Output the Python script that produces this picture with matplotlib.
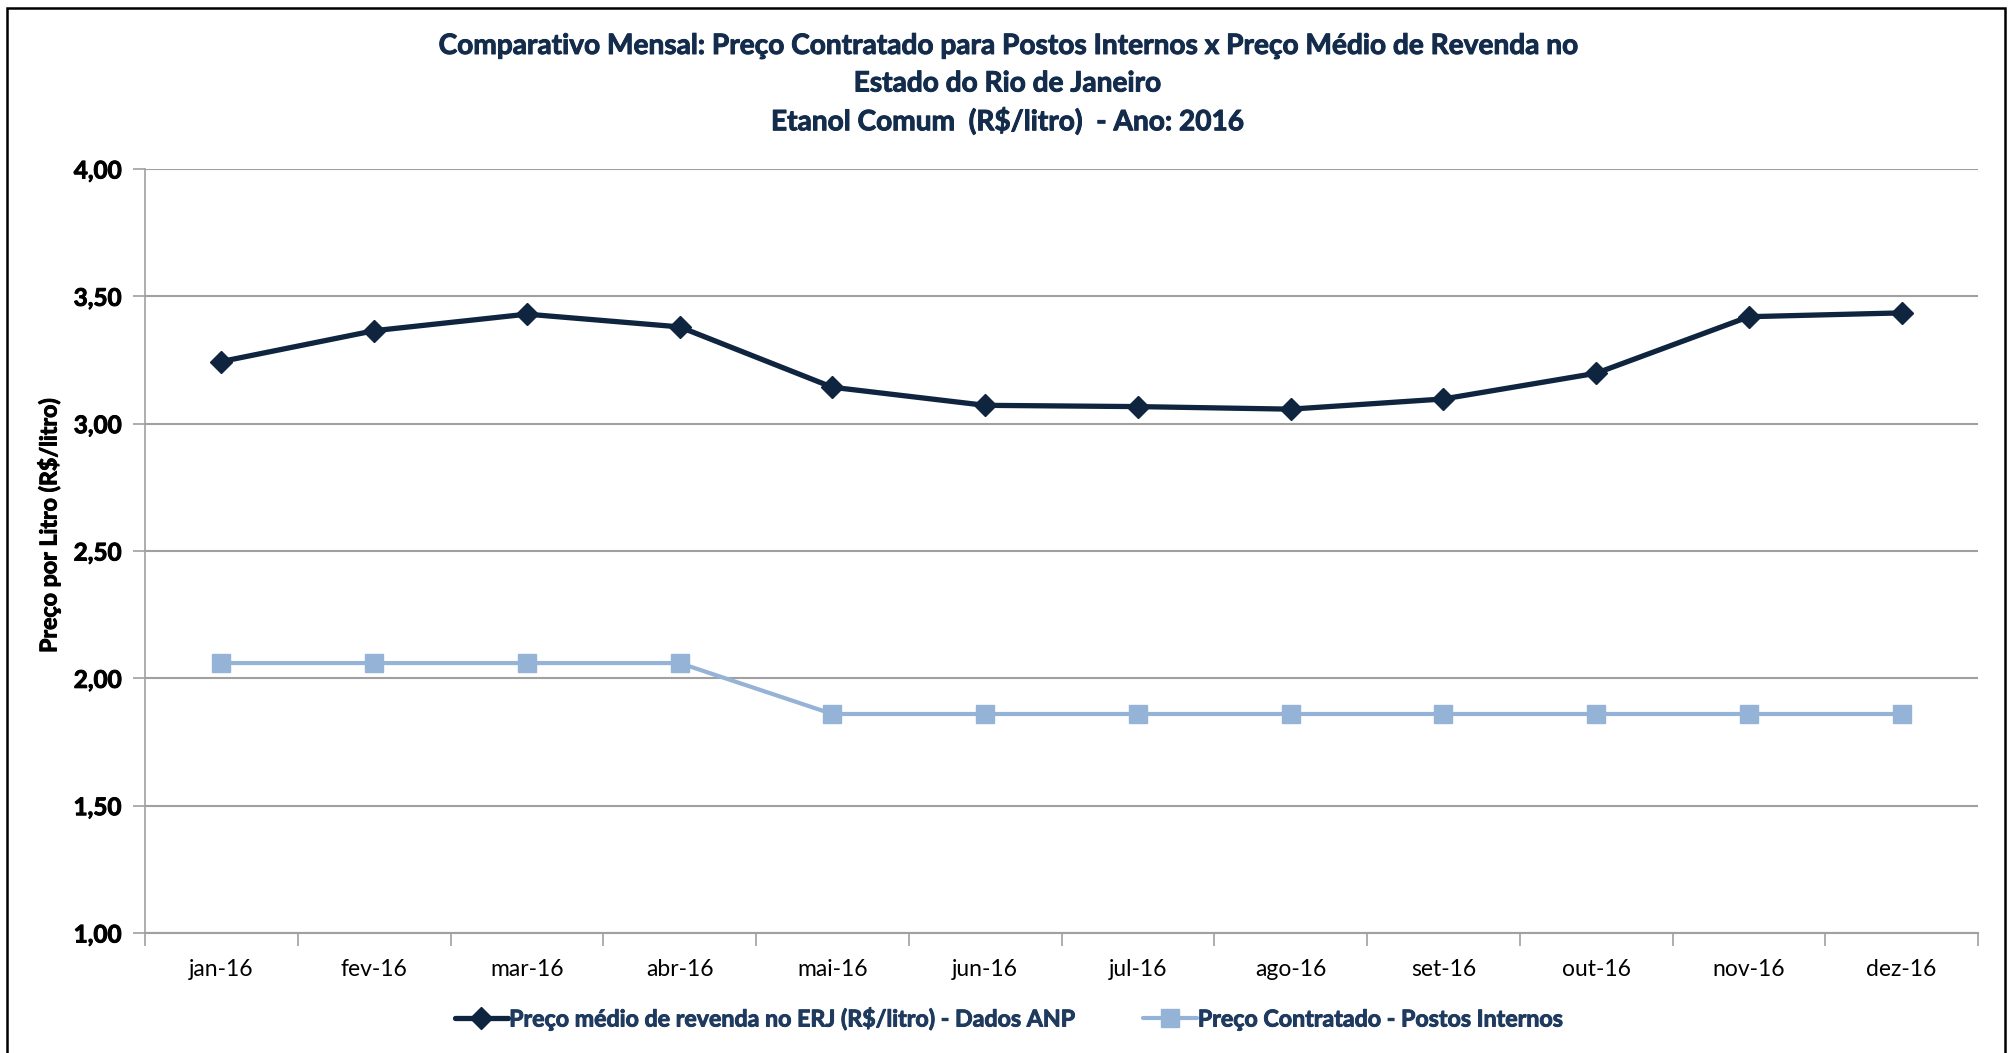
import numpy as np
import matplotlib.pyplot as plt
import matplotlib.patheffects as pe
from matplotlib.lines import Line2D

plt.rcParams['font.family'] = ['Lato', 'DejaVu Sans']

# monthly prices, R$/litro
meses = ['jan-16', 'fev-16', 'mar-16', 'abr-16', 'mai-16', 'jun-16',
         'jul-16', 'ago-16', 'set-16', 'out-16', 'nov-16', 'dez-16']
revenda_anp = [3.244, 3.365, 3.430, 3.380, 3.143, 3.072,
               3.067, 3.057, 3.097, 3.198, 3.420, 3.435]
contratado = [2.06, 2.06, 2.06, 2.06, 1.86, 1.86,
              1.86, 1.86, 1.86, 1.86, 1.86, 1.86]
yticks = [1.0, 1.5, 2.0, 2.5, 3.0, 3.5, 4.0]

nome_anp = 'Preço médio de revenda no ERJ (R$/litro) - Dados ANP'
nome_contr = 'Preço Contratado - Postos Internos'

escuro = '#0F243E'
claro = '#95B3D7'
cinza = '#A0A0A0'
cor_titulo = '#142C4C'
cor_legenda = '#1F3A5F'


def engrossa(cor):
    # a bit of stroke to make the bold text heavier
    return [pe.withStroke(linewidth=0.7, foreground=cor)]


W, H = 2012, 1053
fig = plt.figure(figsize=(W/100, H/100), dpi=100)
ax = fig.add_axes([145/W, 1-933/H, (1978-145)/W, (933-169)/H])

x = np.arange(len(meses))
ax.plot(x, revenda_anp, color=escuro, lw=3.8, marker='D', ms=11.5,
        mec=escuro, mfc=escuro, solid_joinstyle='round', zorder=4)
ax.plot(x, contratado, color=claro, lw=3.0, marker='s', ms=13.5,
        mec=claro, mfc=claro, zorder=3)

ax.set_xlim(-0.5, len(meses)-0.5)
ax.set_ylim(1.0, 4.0)
ax.set_yticks(yticks)
ax.set_yticklabels([('%.2f' % v).replace('.', ',') for v in yticks])
ax.set_xticks(x)
ax.set_xticklabels(meses)
ax.set_xticks(np.arange(-0.5, len(meses)), minor=True)
ax.tick_params(axis='x', which='major', length=0, pad=19, labelsize=16.5,
               labelcolor='black')
ax.tick_params(axis='x', which='minor', length=9, width=1.2, color=cinza)
ax.tick_params(axis='y', length=9, width=1.2, color=cinza, pad=8,
               labelsize=17.5)
for l in ax.get_yticklabels():
    l.set_fontweight('bold')
    l.set_path_effects(engrossa('black'))

ax.grid(axis='y', color=cinza, lw=1.5)
ax.set_axisbelow(True)
for s in ['top', 'right']:
    ax.spines[s].set_visible(False)
ax.spines['left'].set_color(cinza)
ax.spines['bottom'].set_color(cinza)
ax.spines['left'].set_linewidth(1.2)
ax.spines['bottom'].set_linewidth(1.5)

fig.text(49/W, 1-526/H, 'Preço por Litro (R$/litro)', rotation=90,
         ha='center', va='center', fontsize=16.7, fontweight='bold',
         path_effects=engrossa('black'))

titulo = ['Comparativo Mensal: Preço Contratado para Postos Internos x Preço Médio de Revenda no',
          'Estado do Rio de Janeiro',
          'Etanol Comum  (R$/litro)  - Ano: 2016']
for i, t in enumerate(titulo):
    fig.text(1007/W, 1-(46+37.5*i)/H, t, ha='center', va='center',
             fontsize=20.2, fontweight='bold', color=cor_titulo,
             path_effects=engrossa(cor_titulo))

handles = [Line2D([], [], color=escuro, lw=3.8, marker='D', ms=11.5,
                  solid_capstyle='round'),
           Line2D([], [], color=claro, lw=3.0, marker='s', ms=13.5,
                  solid_capstyle='round')]
leg = fig.legend(handles, [nome_anp, nome_contr], loc='center',
                 bbox_to_anchor=(1008/W, 1-1019/H), ncol=2, frameon=False,
                 handlelength=2.3, handletextpad=0.05, columnspacing=3.0,
                 prop={'size': 16.7, 'weight': 'bold'})
for t in leg.get_texts():
    t.set_color(cor_legenda)
    t.set_path_effects(engrossa(cor_legenda))

# chart border (bottom edge runs off the image)
fig.add_artist(plt.Rectangle((7/W, -0.05), (2005-7)/W, 1.05-8/H,
                             transform=fig.transFigure, fill=False,
                             ec='black', lw=1.8))

fig.savefig('out.png', dpi=100)
